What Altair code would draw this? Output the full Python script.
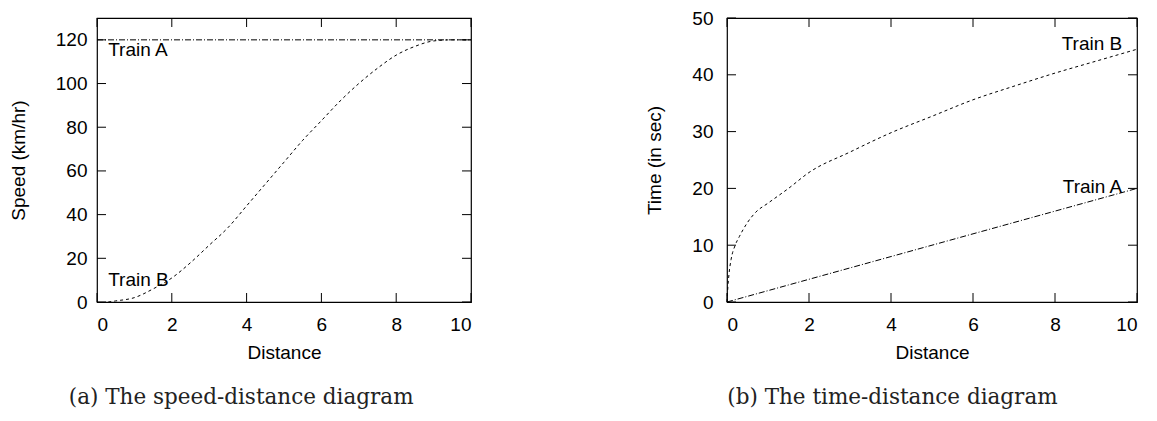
import altair as alt
import pandas as pd

# ---- data ----
distance_a_left = [0.0, 10.0]
speed_a = [120, 120]

distance_b_left = [0.3, 0.5, 1.0, 1.5, 2.0, 2.5, 3.0, 3.5, 4.0, 4.5, 5.0,
                   5.5, 6.0, 6.5, 7.0, 7.5, 8.0, 8.5, 9.0, 9.5, 10.0]
speed_b = [0, 0.5, 2, 6, 11, 18, 26, 34, 44, 54, 64,
           74, 83, 92, 100, 107, 113, 117, 119.5, 120, 120]

distance_a_right = [0.0, 10.0]
time_a = [0, 20]

distance_b_right = [0.0, 0.02, 0.05, 0.1, 0.2, 0.3, 0.5, 0.7, 1.0, 1.5, 2.0,
                    3.0, 4.0, 5.0, 6.0, 7.0, 8.0, 9.0, 10.0]
time_b = [0, 2.5, 5, 7.5, 10, 11.5, 14, 15.8, 17.4, 20, 22.8,
          26.4, 29.8, 32.7, 35.6, 38, 40.3, 42.4, 44.5]

x_ticks = [0, 2, 4, 6, 8, 10]
speed_ticks = [0, 20, 40, 60, 80, 100, 120]
time_ticks = [0, 10, 20, 30, 40, 50]

labels_left = ["Train A", "Train B"]
labels_left_x = [0.3, 0.3]
labels_left_y = [115.5, 10]

labels_right = ["Train B", "Train A"]
labels_right_x = [9.64, 9.64]
labels_right_y = [45.5, 20.2]

captions = ["(a) The speed-distance diagram", "(b) The time-distance diagram"]

SANS = "Liberation Sans"
SERIF = "DejaVu Serif"
FS = 19
TICK = 9


def panel(width, height, ydomain, ytitle, ytickvals, series, labels, label_align,
          caption, label_pad):
    xs = alt.Scale(domain=[0, 10], nice=False, zero=False)
    ys = alt.Scale(domain=ydomain, nice=False, zero=False)
    xax = alt.Axis(values=x_ticks, labelPadding=13, titlePadding=9)
    yax = alt.Axis(values=ytickvals, labelPadding=label_pad, titlePadding=27)

    def X(f):
        return alt.X(f, scale=xs, title="Distance", axis=xax)

    def Y(f):
        return alt.Y(f, scale=ys, title=ytitle, axis=yax)

    layers = []
    for (xv, yv, dash, interp) in series:
        df = pd.DataFrame({"d": xv, "v": yv})
        layers.append(
            alt.Chart(df).mark_line(color="black", strokeWidth=1, strokeDash=dash,
                                    interpolate=interp).encode(
                x=X("d:Q"), y=Y("v:Q"))
        )
    ldf = pd.DataFrame({"d": labels[0], "v": labels[1], "t": labels[2]})
    layers.append(
        alt.Chart(ldf).mark_text(font=SANS, fontSize=FS, align=label_align,
                                 baseline="middle", color="black").encode(
            x=X("d:Q"), y=Y("v:Q"), text="t:N")
    )
    xt = pd.DataFrame({"d": x_ticks})
    yt = pd.DataFrame({"v": ytickvals})
    layers.append(alt.Chart(xt).mark_rule(color="black", strokeWidth=1).encode(
        x=X("d:Q"), y=alt.value(height), y2=alt.value(height - TICK)))
    layers.append(alt.Chart(xt).mark_rule(color="black", strokeWidth=1).encode(
        x=X("d:Q"), y=alt.value(0), y2=alt.value(TICK)))
    layers.append(alt.Chart(yt).mark_rule(color="black", strokeWidth=1).encode(
        y=Y("v:Q"), x=alt.value(0), x2=alt.value(TICK)))
    layers.append(alt.Chart(yt).mark_rule(color="black", strokeWidth=1).encode(
        y=Y("v:Q"), x=alt.value(width - TICK), x2=alt.value(width)))
    return alt.layer(*layers).properties(
        width=width, height=height,
        title=alt.TitleParams(caption, orient="bottom", anchor="middle", frame="bounds",
                              offset=25, font=SERIF, fontSize=21.5, fontWeight="normal",
                              color="#222222"),
    )


H = 284
left = panel(374, H, [0, 130], "Speed (km/hr)", speed_ticks,
             [(distance_a_left, speed_a, [6, 2, 1, 2], "linear"),
              (distance_b_left, speed_b, [3, 3], "monotone")],
             (labels_left_x, labels_left_y, labels_left), "left", captions[0], 10)
right = panel(410, H, [0, 50], "Time (in sec)", time_ticks,
              [(distance_a_right, time_a, [6, 2, 1, 2], "linear"),
               (distance_b_right, time_b, [3, 3], "monotone")],
              (labels_right_x, labels_right_y, labels_right), "right", captions[1], 14)

chart = alt.hconcat(left, right, spacing=171).properties(
    padding={"left": 0, "top": 0, "right": 0, "bottom": 0}
).configure_view(stroke="black", strokeWidth=1.2).configure_axis(
    domain=False, ticks=False, grid=False,
    labelFont=SANS, labelFontSize=FS, labelColor="black",
    titleFont=SANS, titleFontSize=FS, titleFontWeight="normal", titleColor="black",
)

chart.save("out.html", embed_options={"renderer": "svg", "actions": False})
